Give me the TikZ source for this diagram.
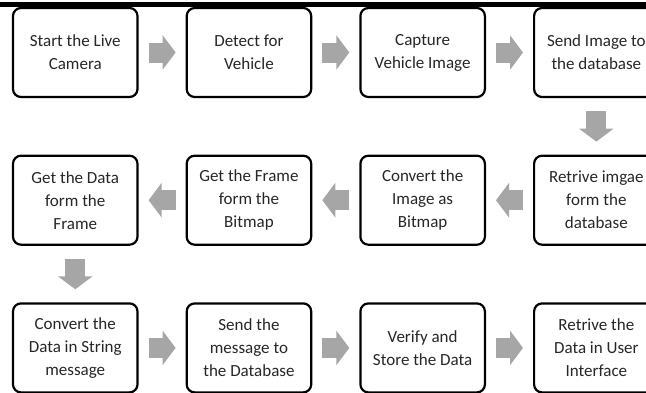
\documentclass[tikz,border=0pt]{standalone}
\usepackage{fontspec}
\setmainfont{Carlito}
\usetikzlibrary{arrows.meta, positioning}

\begin{document}
\begin{tikzpicture}[
    x=1pt, y=1pt,
    node distance=56.5pt and 47pt,
    stepbox/.style={draw, line width=2.2pt, rounded corners=8pt, minimum width=124.5pt, minimum height=89pt, align=center, inner sep=2pt, font=\fontsize{17}{23}\selectfont, text=black!85},
    flow/.style={line width=20pt, draw=black!35, -{Triangle[length=13pt, width=34pt]}, shorten <=10pt, shorten >=10pt}
]
    \clip (0,0) rectangle (646,-392);

    % Rule along the top
    \draw[line width=5pt] (0,-4) -- (646,-4);

    % First row, left to right
    \node[stepbox] (live) at (75.25,-52.5) {Start the Live\\Camera};
    \node[stepbox, right=of live] (detect) {Detect for\\Vehicle};
    \node[stepbox, right=of detect] (capture) {Capture\\Vehicle Image};
    \node[stepbox, right=of capture] (send) {Send Image to\\the database};

    % Second row, right to left
    \node[stepbox, below=of send] (retrive) {Retrive imgae\\form the\\database};
    \node[stepbox, left=of retrive] (bitmap) {Convert the\\Image as\\Bitmap};
    \node[stepbox, left=of bitmap] (frame) {Get the Frame\\form the\\Bitmap};
    \node[stepbox, left=of frame] (data) {Get the Data\\form the\\Frame};

    % Third row, left to right
    \node[stepbox, below=of data] (string) {Convert the\\Data in String\\message};
    \node[stepbox, right=of string] (message) {Send the\\message to\\the Database};
    \node[stepbox, right=of message] (verify) {Verify and\\Store the Data};
    \node[stepbox, right=of verify] (ui) {Retrive the\\Data in User\\Interface};

    % Block arrows
    \draw[flow] (live) -- (detect);
    \draw[flow] (detect) -- (capture);
    \draw[flow] (capture) -- (send);
    \draw[flow, shorten <=13pt, shorten >=13pt] (send) -- (retrive);
    \draw[flow] (retrive) -- (bitmap);
    \draw[flow] (bitmap) -- (frame);
    \draw[flow] (frame) -- (data);
    \draw[flow, shorten <=13pt, shorten >=13pt] (data) -- (string);
    \draw[flow] (string) -- (message);
    \draw[flow] (message) -- (verify);
    \draw[flow] (verify) -- (ui);
\end{tikzpicture}
\end{document}
